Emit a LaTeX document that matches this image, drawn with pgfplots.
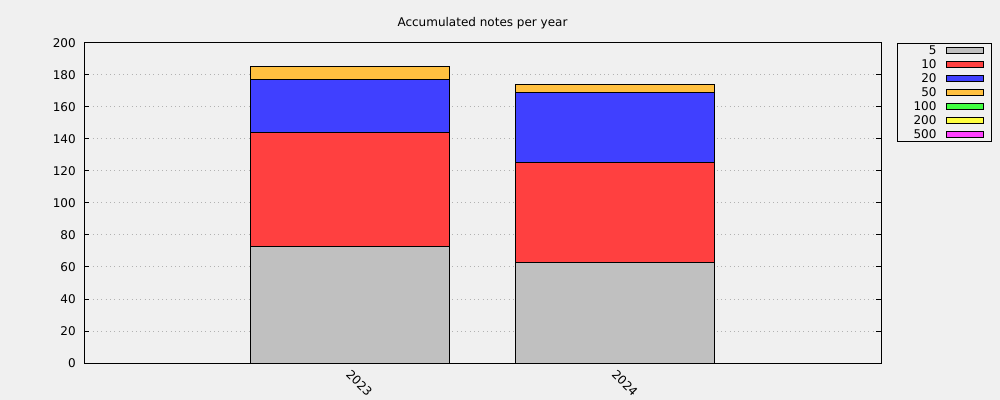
\documentclass[border=0pt]{standalone}
\usepackage{fontspec}
\setmainfont{DejaVu Sans}
\usepackage{pgfplots}
\pgfplotsset{compat=1.18}
\definecolor{bg}{HTML}{F0F0F0}
\definecolor{c5}{HTML}{C0C0C0}
\definecolor{c10}{HTML}{FF4040}
\definecolor{c20}{HTML}{4040FF}
\definecolor{c50}{HTML}{FFC040}
\definecolor{c100}{HTML}{40FF40}
\definecolor{c200}{HTML}{FFFF40}
\definecolor{c500}{HTML}{FF40FF}
\begin{document}
\begin{tikzpicture}
\fill[bg] (0,0) rectangle (750pt,300pt);
\useasboundingbox (0,0) rectangle (750pt,300pt);
\begin{axis}[
  at={(63pt,27.75pt)}, anchor=south west,
  scale only axis, width=597.75pt, height=240pt,
  ybar stacked, bar width=0.75,
  xmin=-1, xmax=2, ymin=0, ymax=200,
  xtick={0,1}, xticklabels={2023,2024},
  ytick={0,20,...,200},
  font=\fontsize{9pt}{11pt}\selectfont,
  /pgf/number format/assume math mode=true,
  ymajorgrids,
  grid style={black!30, line width=0.75pt, dash pattern=on 0.75pt off 2.5pt},
  axis line style={line width=0.75pt},
  tick align=inside,
  major tick length=3.75pt,
  xtick style={draw=none},
  ytick style={line width=0.75pt, black},
  yticklabel style={inner sep=0pt, xshift=-6pt},
  xticklabel style={xshift=1.5pt, yshift=-3pt, rotate=-45, anchor=north west, inner sep=1pt},
  title={Accumulated notes per year},
  title style={at={(0.5,1)}, anchor=base, yshift=6pt, inner sep=0pt},
  legend plot pos=right,
  legend cell align=right,
  legend image code/.code={\draw[#1, line width=0.75pt] (0pt,-2.25pt) rectangle (27.75pt,2.25pt);},
  legend style={at={(1.0201,1)}, anchor=north west, draw=black, line width=0.75pt, fill=bg,
    inner xsep=6pt, inner ysep=0pt, row sep=0pt, column sep=6.75pt,
    font=\fontsize{9pt}{11pt}\selectfont,
    nodes={inner sep=0pt, text height=8.45pt, text depth=2pt, text width=23.25pt, align=right}},
]
\addplot[fill=c5, draw=black, line width=0.75pt] coordinates {(0,73) (1,63)};
\addplot[fill=c10, draw=black, line width=0.75pt] coordinates {(0,71) (1,62)};
\addplot[fill=c20, draw=black, line width=0.75pt] coordinates {(0,33) (1,44)};
\addplot[fill=c50, draw=black, line width=0.75pt] coordinates {(0,8) (1,5)};
\addplot[fill=c100, draw=black, line width=0.75pt] coordinates {(0,0) (1,0)};
\addplot[fill=c200, draw=black, line width=0.75pt] coordinates {(0,0) (1,0)};
\addplot[fill=c500, draw=black, line width=0.75pt] coordinates {(0,0) (1,0)};
\legend{5,10,20,50,100,200,500}
\end{axis}
\end{tikzpicture}
\end{document}
